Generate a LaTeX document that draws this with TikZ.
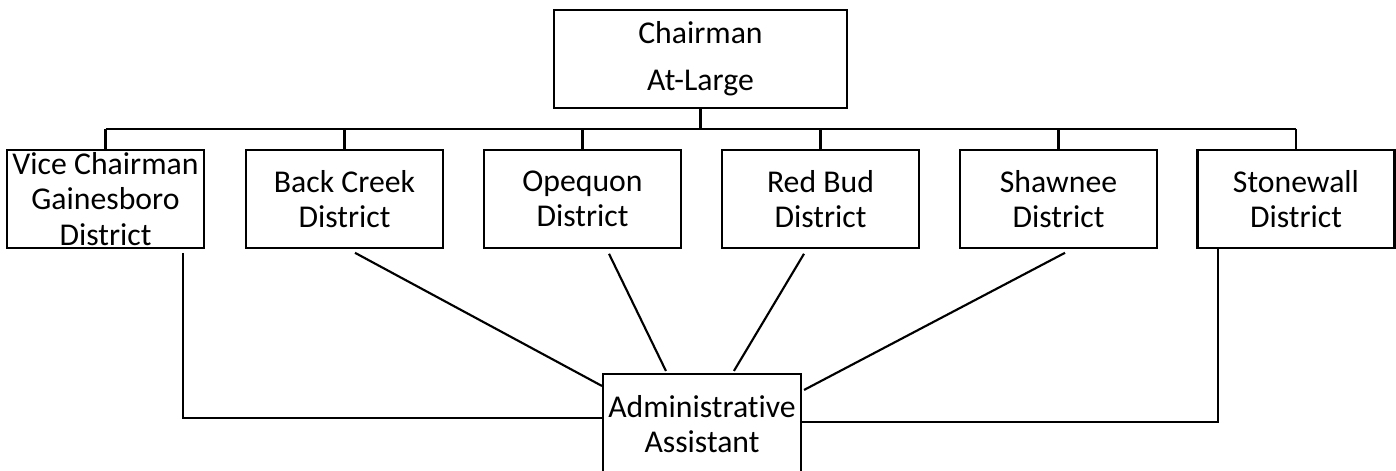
\documentclass[tikz,border=0pt]{standalone}
\usepackage{fontspec}
\setmainfont{Carlito}[Ligatures={NoCommon}]
\usetikzlibrary{calc}
\begin{document}
\begin{tikzpicture}[x=0.75pt,y=-0.75pt,
  box/.style={draw,line width=1.6pt,align=center,inner sep=0.5pt,
    font=\fontsize{23.8}{26.5}\selectfont},
  rowbox/.style={box,minimum width=147.75pt,minimum height=73.1pt},
  link/.style={line width=1.6pt}]
\clip (0,0) rectangle (1396,471);

% board members
\node[box,minimum width=219.75pt,minimum height=73.5pt,
  font=\fontsize{23.8}{35}\selectfont] (chair) at (700.5,59) {Chairman\\At-Large};
\node[rowbox] (vc) at (105.5,199) {Vice Chairman\\Gainesboro\\District};
\node[rowbox] (bc) at (344.5,199) {Back Creek\\District};
\node[rowbox] (op) at (582.5,199) {Opequon\\District};
\node[rowbox] (rb) at (820.5,199) {Red Bud\\District};
\node[rowbox] (sh) at (1058.5,199) {Shawnee\\District};
\node[rowbox] (sw) at (1296,199) {Stonewall\\District};

% staff
\node[box,minimum width=148.5pt,minimum height=75pt] (admin) at (702,424)
  {Administrative\\Assistant};

% bus from the chairman to each district
\coordinate (busy) at (0,129);
\draw[link] (chair.south) -- (chair.south |- busy);
\draw[link] (vc.north |- busy) -- (sw.north |- busy);
\foreach \n in {vc,bc,op,rb,sh,sw}
  \draw[link] (\n.north) -- (\n.north |- busy);

% lines from each district to the assistant
\draw[link] ($(vc.south)+(77.5,4)$) |- ($(admin.north west)+(0,45)$);
\draw[link] ($(bc.south)+(10.5,4)$) -- ($(admin.north west)+(0,13)$);
\draw[link] ($(op.south)+(26.5,5)$) -- ($(admin.north west)+(64,-2)$);
\draw[link] ($(rb.south)+(-16.5,5)$) -- ($(admin.north west)+(132,-2)$);
\draw[link] ($(sh.south)+(6.5,4)$) -- ($(admin.north east)+(2,17)$);
\draw[link] ($(admin.north east)+(0,49)$) -| ($(sw.south)+(-78,0)$);
\end{tikzpicture}
\end{document}
